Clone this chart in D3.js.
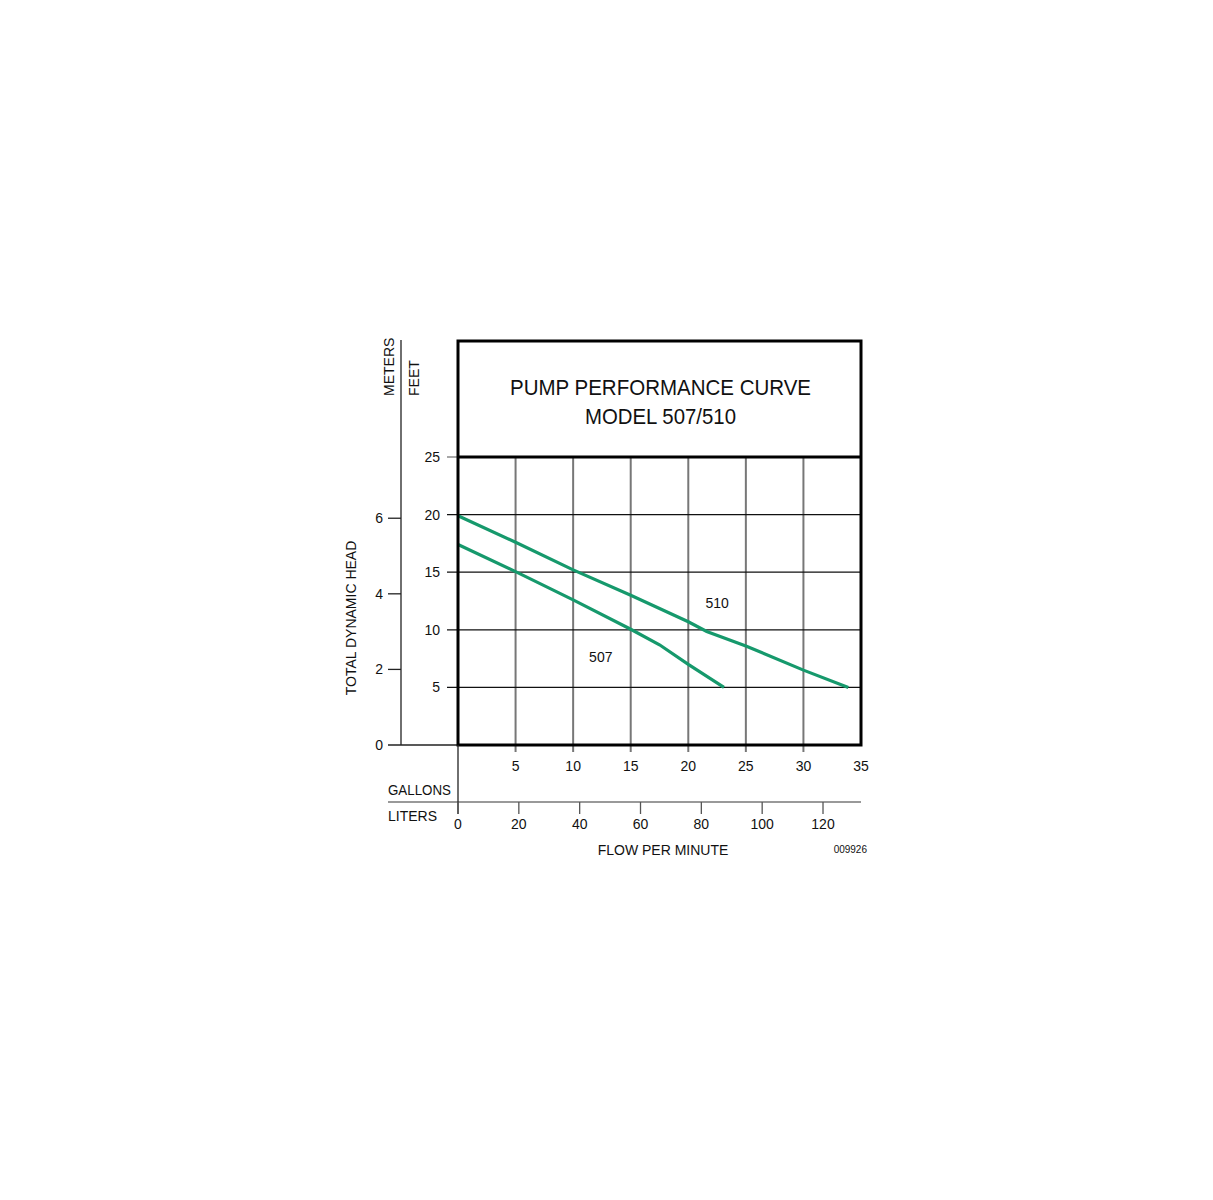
<!DOCTYPE html>
<html>
<head>
<meta charset="utf-8">
<script src="https://cdn.jsdelivr.net/npm/d3@7"></script>
<style>
  body { margin: 0; background: #fff; }
  text { font-family: "Liberation Sans", Arial, sans-serif; fill: #111; }
</style>
</head>
<body>
<svg id="chart" width="1213" height="1200"></svg>
<script>
  // Chart data.
  var titleLines = [ 'PUMP PERFORMANCE CURVE', 'MODEL 507/510' ];
  var titleWidths = [ 301, 151 ];
  var gallonTicks = [ 5, 10, 15, 20, 25, 30, 35 ];
  var literTicks  = [ 0, 20, 40, 60, 80, 100, 120 ];
  var feetTicks   = [ 5, 10, 15, 20, 25 ];
  var meterTicks  = [ 0, 2, 4, 6 ];

  // [gallons per minute, feet of head]
  var curve510 = [ [0, 19.9], [5, 17.6], [10, 15.2], [15, 13.0], [20, 10.7],
                   [21.6, 9.85], [25, 8.6], [30, 6.5], [33.9, 5.0] ];
  var curve507 = [ [0, 17.4], [5, 15.05], [10, 12.6], [15, 10.05], [17.5, 8.7],
                   [20, 7.0], [23.1, 5.0] ];

  var labels = [ { text: '510', gal: 22.5, ft: 12.3 },
                 { text: '507', gal: 12.4, ft: 7.6 } ];

  (function() {
    'use strict';

    var green = '#16996c';
    var svg = d3.select( '#chart' );

    // Frame geometry.
    var plotLeft = 458, plotRight = 861, plotTop = 457, plotBottom = 745, boxTop = 341;

    var x  = d3.scaleLinear().domain( [ 0, 35 ] ).range( [ plotLeft, plotRight ] );
    var xL = d3.scaleLinear().domain( [ 0, 35 * 3.78541 ] ).range( [ plotLeft, plotRight ] );
    var y  = d3.scaleLinear().domain( [ 0, 25 ] ).range( [ plotBottom, plotTop ] );
    var yM = d3.scaleLinear().domain( [ 0, 25 * 0.3048 ] ).range( [ plotBottom, plotTop ] );

    // Grid: vertical lines are grey, horizontal black.
    svg.append( 'g' ).selectAll( 'line' )
      .data( gallonTicks.slice( 0, -1 ) )
      .enter().append( 'line' )
        .attr( 'x1', x ).attr( 'x2', x )
        .attr( 'y1', plotTop ).attr( 'y2', plotBottom + 7 )
        .attr( 'stroke', '#777' ).attr( 'stroke-width', 2 );

    svg.append( 'g' ).selectAll( 'line' )
      .data( feetTicks.slice( 0, -1 ) )
      .enter().append( 'line' )
        .attr( 'x1', plotLeft - 11 ).attr( 'x2', plotRight )
        .attr( 'y1', y ).attr( 'y2', y )
        .attr( 'stroke', '#111' ).attr( 'stroke-width', 1.3 );

    svg.append( 'line' )
      .attr( 'x1', plotLeft - 11 ).attr( 'x2', plotLeft )
      .attr( 'y1', plotTop ).attr( 'y2', plotTop )
      .attr( 'stroke', '#777' ).attr( 'stroke-width', 1.3 );

    // Feet labels.
    svg.append( 'g' ).selectAll( 'text' )
      .data( feetTicks )
      .enter().append( 'text' )
        .attr( 'x', 440 ).attr( 'y', y )
        .attr( 'dy', '0.35em' )
        .attr( 'text-anchor', 'end' )
        .style( 'font-size', '14px' )
        .text( String );

    // Meters axis.
    svg.append( 'line' )
      .attr( 'x1', 401 ).attr( 'x2', 401 )
      .attr( 'y1', 340 ).attr( 'y2', plotBottom )
      .attr( 'stroke', '#222' ).attr( 'stroke-width', 1.3 );

    var mAxis = svg.append( 'g' ).selectAll( 'g' )
      .data( meterTicks )
      .enter().append( 'g' );
    mAxis.append( 'line' )
      .attr( 'x1', 388 ).attr( 'x2', function( d ) { return d === 0 ? plotLeft : 401; } )
      .attr( 'y1', yM ).attr( 'y2', yM )
      .attr( 'stroke', '#222' ).attr( 'stroke-width', 1.3 );
    mAxis.append( 'text' )
      .attr( 'x', 383 ).attr( 'y', yM )
      .attr( 'dy', '0.35em' )
      .attr( 'text-anchor', 'end' )
      .style( 'font-size', '14px' )
      .text( String );

    // Green curves.
    var line = d3.line()
      .x( function( d ) { return x( d[0] ); } )
      .y( function( d ) { return y( d[1] ); } );

    svg.append( 'g' ).selectAll( 'path' )
      .data( [ curve510, curve507 ] )
      .enter().append( 'path' )
        .attr( 'd', line )
        .attr( 'fill', 'none' )
        .attr( 'stroke', green )
        .attr( 'stroke-width', 3.2 );

    svg.append( 'g' ).selectAll( 'text' )
      .data( labels )
      .enter().append( 'text' )
        .attr( 'x', function( d ) { return x( d.gal ); } )
        .attr( 'y', function( d ) { return y( d.ft ); } )
        .attr( 'text-anchor', 'middle' )
        .attr( 'dy', '0.35em' )
        .style( 'font-size', '14px' )
        .text( function( d ) { return d.text; } );

    // Outer box and title divider.
    svg.append( 'rect' )
      .attr( 'x', plotLeft ).attr( 'y', boxTop )
      .attr( 'width', plotRight - plotLeft ).attr( 'height', plotBottom - boxTop )
      .attr( 'fill', 'none' )
      .attr( 'stroke', '#000' ).attr( 'stroke-width', 3 );
    svg.append( 'line' )
      .attr( 'x1', plotLeft ).attr( 'x2', plotRight )
      .attr( 'y1', plotTop ).attr( 'y2', plotTop )
      .attr( 'stroke', '#000' ).attr( 'stroke-width', 3 );

    // Title, squeezed to the narrow face of the original.
    svg.append( 'g' ).selectAll( 'text' )
      .data( titleLines )
      .enter().append( 'text' )
        .attr( 'x', ( plotLeft + plotRight ) / 2 + 1 )
        .attr( 'y', function( d, i ) { return 395 + i * 29; } )
        .attr( 'text-anchor', 'middle' )
        .attr( 'textLength', function( d, i ) { return titleWidths[i]; } )
        .attr( 'lengthAdjust', 'spacingAndGlyphs' )
        .style( 'font-size', '22px' )
        .text( String );

    // Gallons labels.
    svg.append( 'g' ).selectAll( 'text' )
      .data( gallonTicks )
      .enter().append( 'text' )
        .attr( 'x', x ).attr( 'y', 771 )
        .attr( 'text-anchor', 'middle' )
        .style( 'font-size', '14px' )
        .text( String );

    // Liters axis.
    svg.append( 'line' )
      .attr( 'x1', 388 ).attr( 'x2', plotRight )
      .attr( 'y1', 802 ).attr( 'y2', 802 )
      .attr( 'stroke', '#777' ).attr( 'stroke-width', 1.5 );
    svg.append( 'line' )
      .attr( 'x1', plotLeft ).attr( 'x2', plotLeft )
      .attr( 'y1', plotBottom ).attr( 'y2', 814 )
      .attr( 'stroke', '#222' ).attr( 'stroke-width', 1.3 );

    var lAxis = svg.append( 'g' ).selectAll( 'g' )
      .data( literTicks )
      .enter().append( 'g' );
    lAxis.append( 'line' )
      .attr( 'x1', xL ).attr( 'x2', xL )
      .attr( 'y1', 802 ).attr( 'y2', 814 )
      .attr( 'stroke', '#555' ).attr( 'stroke-width', 1.3 );
    lAxis.append( 'text' )
      .attr( 'x', xL ).attr( 'y', 829 )
      .attr( 'text-anchor', 'middle' )
      .style( 'font-size', '14px' )
      .text( String );

    // Axis titles.
    svg.append( 'text' ).attr( 'x', 388 ).attr( 'y', 795 )
      .attr( 'textLength', 63 ).attr( 'lengthAdjust', 'spacingAndGlyphs' )
      .style( 'font-size', '14px' ).text( 'GALLONS' );
    svg.append( 'text' ).attr( 'x', 388 ).attr( 'y', 821 )
      .style( 'font-size', '14px' ).text( 'LITERS' );
    svg.append( 'text' ).attr( 'x', 663 ).attr( 'y', 855 )
      .attr( 'text-anchor', 'middle' )
      .style( 'font-size', '14px' ).text( 'FLOW PER MINUTE' );
    svg.append( 'text' ).attr( 'x', 867 ).attr( 'y', 853 )
      .attr( 'text-anchor', 'end' )
      .style( 'font-size', '10px' ).text( '009926' );

    svg.append( 'text' )
      .attr( 'transform', 'translate(356,618) rotate(-90)' )
      .attr( 'text-anchor', 'middle' )
      .style( 'font-size', '14px' ).text( 'TOTAL DYNAMIC HEAD' );
    svg.append( 'text' )
      .attr( 'transform', 'translate(394,396) rotate(-90)' )
      .style( 'font-size', '14px' ).text( 'METERS' );
    svg.append( 'text' )
      .attr( 'transform', 'translate(419,396) rotate(-90)' )
      .style( 'font-size', '14px' ).text( 'FEET' );
  })();
</script>
</body>
</html>
